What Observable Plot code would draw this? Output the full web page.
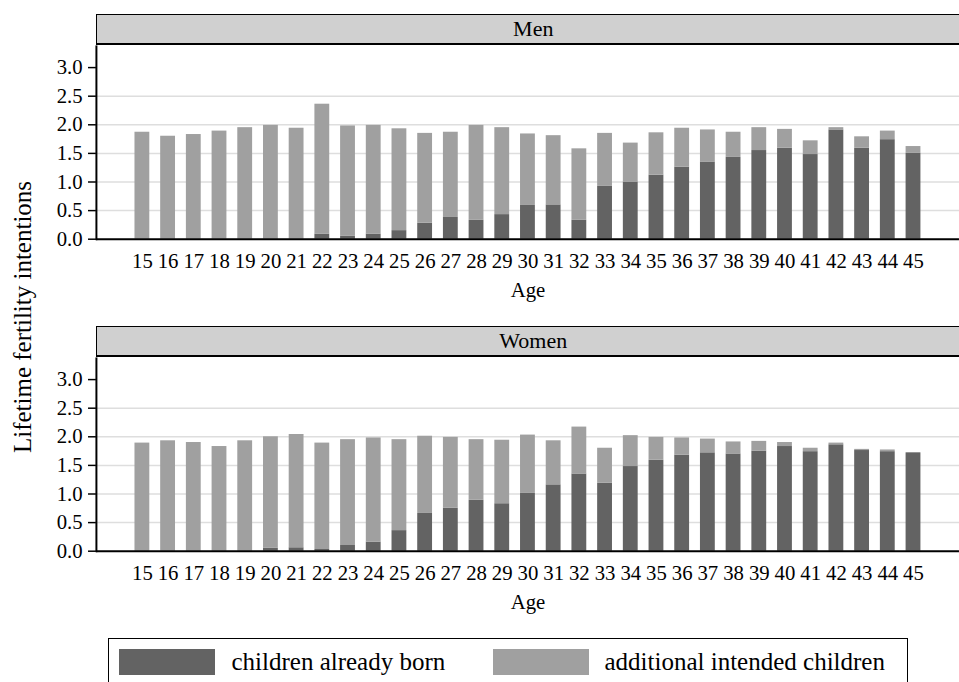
<!DOCTYPE html>
<html>
<head>
<meta charset="utf-8">
<script src="https://cdn.jsdelivr.net/npm/d3@7"></script>
<script src="https://cdn.jsdelivr.net/npm/@observablehq/plot@0.6"></script>
<style>
  body { margin: 0; overflow: hidden; background: #fff; font-family: "Liberation Serif", "Times New Roman", serif; }
  #wrap { position: relative; width: 959px; height: 682px; overflow: hidden; }
  .strip { position: absolute; left: 96px; width: 872.5px; height: 28px; background: #d0d0d0;
           border-top: 1.5px solid #000; border-left: 1.5px solid #000; border-bottom: 2.5px solid #000;
           font-size: 22px; line-height: 28px; text-align: center; color: #000; }
  .panel { position: absolute; left: 0; }
  #ytitle { position: absolute; left: 23px; top: 317px; transform: translate(-50%, -50%) rotate(-90deg);
            font-size: 25px; white-space: nowrap; color: #000; }
  #legend { position: absolute; left: 108px; top: 638px; width: 798px; height: 70px; border: 1.5px solid #000; }
  .sw { position: absolute; top: 9.5px; width: 96px; height: 26px; }
  .lt { position: absolute; top: 9.5px; font-size: 25px; line-height: 26px; white-space: nowrap; color: #000; }
</style>
</head>
<body>
<div id="wrap">
  <div class="strip" id="stripMen" style="top:14px"></div>
  <div class="panel" id="men" style="top:40px"></div>
  <div class="strip" id="stripWomen" style="top:326px"></div>
  <div class="panel" id="women" style="top:352px"></div>
  <div id="ytitle"></div>
  <div id="legend"></div>
</div>
<script>
// ---- data ----
const panelTitles = ["Men", "Women"];
const yTitle = "Lifetime fertility intentions";
const xTitle = "Age";
const types = ["children already born", "additional intended children"];
const colors = ["#636363", "#a0a0a0"];
const ages = [15,16,17,18,19,20,21,22,23,24,25,26,27,28,29,30,31,32,33,34,35,36,37,38,39,40,41,42,43,44,45];
const yTicks = [0, 0.5, 1.0, 1.5, 2.0, 2.5, 3.0];
const gridTicks = [0.5, 1.0, 1.5, 2.0, 2.5];

const menBorn = [0,0,0,0,0,0,0,0.09,0.05,0.09,0.15,0.28,0.38,0.33,0.43,0.59,0.60,0.33,0.93,1.00,1.12,1.26,1.35,1.43,1.55,1.59,1.48,1.91,1.59,1.74,1.50];
const menAdditional = [1.87,1.80,1.83,1.89,1.95,1.99,1.94,2.27,1.93,1.90,1.78,1.57,1.49,1.66,1.52,1.25,1.21,1.25,0.92,0.68,0.74,0.68,0.56,0.44,0.40,0.33,0.24,0.04,0.20,0.15,0.12];
const womenBorn = [0,0,0,0,0,0.05,0.06,0.03,0.10,0.16,0.36,0.66,0.75,0.89,0.83,1.01,1.16,1.35,1.19,1.48,1.59,1.68,1.72,1.70,1.75,1.83,1.74,1.86,1.76,1.74,1.72];
const womenAdditional = [1.89,1.93,1.90,1.83,1.93,1.95,1.98,1.86,1.85,1.82,1.59,1.35,1.24,1.06,1.11,1.02,0.77,0.82,0.61,0.54,0.40,0.30,0.24,0.21,0.17,0.07,0.06,0.03,0.02,0.03,0.00];

const FONT = "Liberation Serif, Times New Roman, serif";

function panel(born, additional) {
  const rows = [];
  ages.forEach((a, i) => rows.push({age: a, value: born[i], type: types[0]}));
  ages.forEach((a, i) => rows.push({age: a, value: additional[i], type: types[1]}));
  return Plot.plot({
    width: 970, height: 266,
    marginLeft: 97, marginRight: 0, marginTop: 6, marginBottom: 65,
    style: {fontFamily: FONT, fontSize: "21px", color: "#000", background: "transparent", overflow: "visible"},
    x: {type: "band", domain: ages, paddingInner: 0.405, paddingOuter: 0.93, label: null},
    y: {domain: [0, 3.37], label: null},
    color: {domain: types, range: colors},
    marks: [
      Plot.gridY(gridTicks, {stroke: "#dedede", strokeOpacity: 1, strokeWidth: 1.5}),
      Plot.barY(rows, {x: "age", y: "value", fill: "type"}),
      Plot.axisY(yTicks, {tickSize: 8, tickPadding: 6, tickFormat: d3.format(".1f"), stroke: "#000", strokeWidth: 1.5, label: null, fontSize: 21}),
      Plot.axisX({tickSize: 0, tickPadding: 14, label: xTitle, labelAnchor: "center", labelOffset: 58, fontSize: 21}),
      Plot.frame({anchor: "left", stroke: "#000", strokeWidth: 2}),
      Plot.ruleY([0], {stroke: "#000", strokeWidth: 2})
    ]
  });
}

document.getElementById("men").appendChild(panel(menBorn, menAdditional));
document.getElementById("women").appendChild(panel(womenBorn, womenAdditional));
document.getElementById("stripMen").textContent = panelTitles[0];
document.getElementById("stripWomen").textContent = panelTitles[1];
document.getElementById("ytitle").textContent = yTitle;

const legend = document.getElementById("legend");
const swLeft = [9.5, 383.5], txtLeft = [122.5, 495.5];
types.forEach((t, i) => {
  const sw = document.createElement("div");
  sw.className = "sw"; sw.style.left = swLeft[i] + "px"; sw.style.background = colors[i];
  legend.appendChild(sw);
  const tx = document.createElement("div");
  tx.className = "lt"; tx.style.left = txtLeft[i] + "px"; tx.textContent = t;
  legend.appendChild(tx);
});
</script>
</body>
</html>
